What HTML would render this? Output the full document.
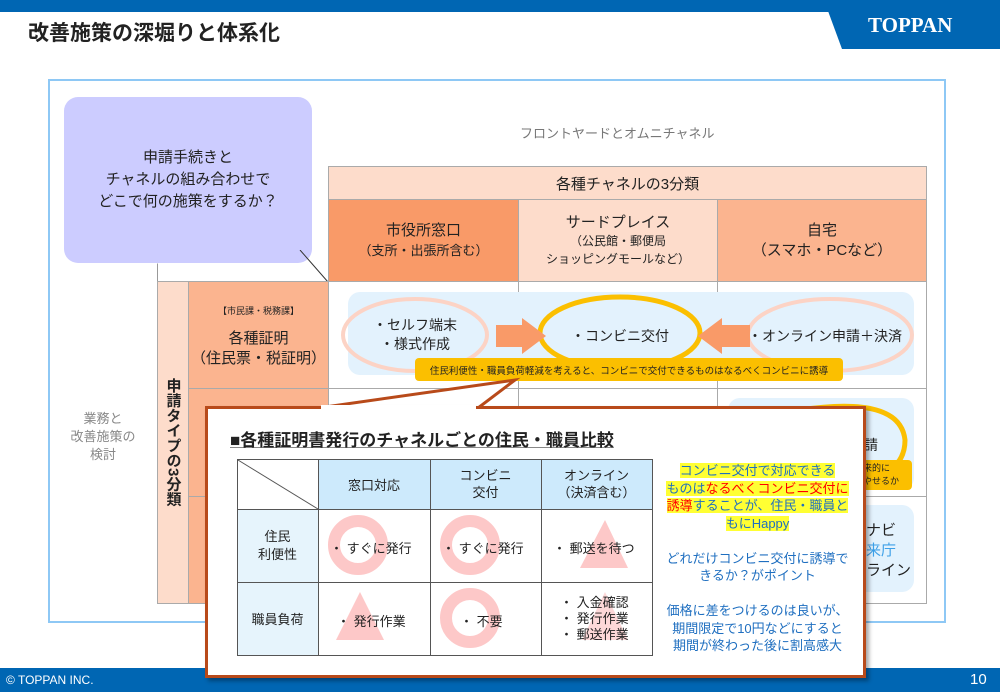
<!DOCTYPE html>
<html><head><meta charset="utf-8"><style>
*{margin:0;padding:0;box-sizing:border-box}
body{width:1000px;height:692px;position:relative;overflow:hidden;background:#fff;font-family:"Liberation Sans","Noto Sans CJK JP",sans-serif;color:#222}
.a{position:absolute}
.c{display:flex;align-items:center;justify-content:center;text-align:center;flex-direction:column}
.g{border:1px solid #aaa}
</style></head><body>
<div class="a" style="left:0;top:0;width:1000px;height:12px;background:#0066b3"></div>
<svg class="a" style="left:0;top:0" width="1000" height="50"><polygon points="828,11 1000,11 1000,49 842,49" fill="#0066b3"/></svg>
<div class="a" style="left:868px;top:13px;color:#fff;font-family:'Liberation Serif',serif;font-weight:bold;font-size:21px;">TOPPAN</div>
<div class="a" style="left:28px;top:17px;font-size:21px;font-weight:bold;color:#222">改善施策の深堀りと体系化</div>
<div class="a" style="left:0;top:668px;width:1000px;height:24px;background:#0066b3"></div>
<div class="a" style="left:6px;top:673px;font-size:12px;color:#fff">© TOPPAN INC.</div>
<div class="a" style="left:970px;top:671px;font-size:15px;color:#fff">10</div>

<div class="a" style="left:48px;top:79px;width:898px;height:544px;border:2px solid #8ec8f5"></div>
<div class="a c" style="left:64px;top:97px;width:248px;height:166px;background:#ccccff;border-radius:14px;font-size:15px;line-height:22px">申請手続きと<br>チャネルの組み合わせで<br>どこで何の施策をするか？</div>
<div class="a" style="left:520px;top:123px;font-size:13px;color:#777">フロントヤードとオムニチャネル</div>

<div class="a" style="left:157px;top:263px;width:171px;height:19px;border-left:1px solid #999;border-top:1px solid #fff"></div>
<svg class="a" style="left:290px;top:250px" width="40" height="34"><line x1="10" y1="0" x2="38" y2="32" stroke="#333" stroke-width="1"/></svg>
<div class="a" style="left:157px;top:281px;width:770px;height:1px;background:#999"></div>

<div class="a c g" style="left:328px;top:166px;width:599px;height:34px;background:#fddccb;font-size:15px">各種チャネルの3分類</div>
<div class="a c g" style="left:328px;top:199px;width:191px;height:83px;background:#f99a68;font-size:15px;line-height:20px">市役所窓口<br><span style="font-size:13px">（支所・出張所含む）</span></div>
<div class="a c g" style="left:518px;top:199px;width:200px;height:83px;background:#fddccb;font-size:15px;line-height:18px">サードプレイス<br><span style="font-size:12px">（公民館・郵便局<br>ショッピングモールなど）</span></div>
<div class="a c g" style="left:717px;top:199px;width:210px;height:83px;background:#fbb48f;font-size:15px;line-height:20px">自宅<br>（スマホ・PCなど）</div>

<div class="a c g" style="left:157px;top:281px;width:32px;height:323px;background:#fddccb;font-size:15px;writing-mode:vertical-rl;font-weight:bold">申請タイプの3分類</div>
<div class="a c g" style="left:188px;top:281px;width:141px;height:108px;background:#fbb48f;font-size:15px;line-height:20px"><span style="font-size:9px">【市民課・税務課】</span><span style="height:8px"></span>各種証明<br>（住民票・税証明）</div>
<div class="a g" style="left:188px;top:388px;width:141px;height:109px;background:#fbb48f"></div>
<div class="a g" style="left:188px;top:496px;width:141px;height:108px;background:#fbb48f"></div>
<div class="a g" style="left:328px;top:281px;width:599px;height:108px"></div>
<div class="a g" style="left:328px;top:388px;width:599px;height:109px"></div>
<div class="a g" style="left:328px;top:496px;width:599px;height:108px"></div>
<div class="a" style="left:518px;top:281px;width:1px;height:323px;background:#aaa"></div>
<div class="a" style="left:717px;top:281px;width:1px;height:323px;background:#aaa"></div>

<div class="a c" style="left:60px;top:410px;width:86px;font-size:13px;color:#888;line-height:18px">業務と<br>改善施策の<br>検討</div>

<div class="a" style="left:348px;top:292px;width:566px;height:83px;background:#e3f2fd;border-radius:12px"></div>
<div class="a" style="left:728px;top:398px;width:186px;height:92px;background:#e3f2fd;border-radius:12px"></div>
<div class="a" style="left:728px;top:505px;width:186px;height:87px;background:#e3f2fd;border-radius:12px"></div>
<svg class="a" style="left:0;top:0" width="1000" height="692">
<ellipse cx="415" cy="335" rx="72" ry="36" fill="none" stroke="#fcd3c5" stroke-width="4"/>
<ellipse cx="830" cy="335" rx="82" ry="36" fill="none" stroke="#fcd3c5" stroke-width="4"/>
<ellipse cx="620" cy="333" rx="80" ry="36" fill="none" stroke="#fbbf00" stroke-width="5"/>
<polygon points="496,325 522,325 522,318 546,336 522,354 522,347 496,347" fill="#f99a68"/>
<polygon points="750,325 722,325 722,318 698,336 722,354 722,347 750,347" fill="#f99a68"/>
<path d="M800,410 Q900,395 905,440 Q905,470 870,478" fill="none" stroke="#fbbf00" stroke-width="5"/>
</svg>
<div class="a c" style="left:360px;top:316px;width:110px;font-size:14px;line-height:19px">・セルフ端末<br>・様式作成</div>
<div class="a c" style="left:560px;top:326px;width:120px;font-size:14px">・コンビニ交付</div>
<div class="a" style="left:748px;top:326px;font-size:14px">・オンライン申請＋決済</div>
<div class="a c" style="left:415px;top:358px;width:428px;height:23px;background:#fbbf00;border-radius:4px;font-size:9.5px">住民利便性・職員負荷軽減を考えると、コンビニで交付できるものはなるべくコンビニに誘導</div>
<div class="a" style="left:864px;top:435px;font-size:14px">請</div>
<div class="a" style="left:855px;top:460px;width:57px;height:30px;background:#fbbf00;border-radius:4px;font-size:9px;line-height:13px;padding:2px 0 0 8px">来的に<br>やせるか</div>
<div class="a" style="left:866px;top:521px;font-size:15px;line-height:20px">ナビ<br><span style="color:#3da0e8">来庁</span><br>ライン</div>

<!-- popup -->
<svg class="a" style="left:0;top:0" width="1000" height="692">
<polygon points="318,408 515,380 478,408" fill="#fff" stroke="#b84a1a" stroke-width="3"/>
</svg>
<div class="a" style="left:205px;top:406px;width:661px;height:272px;background:#fff;border:3px solid #b84a1a;box-shadow:3px 3px 4px rgba(0,0,0,.35)"></div>
<div class="a" style="left:321px;top:405px;width:155px;height:5px;background:#fff"></div>
<div class="a" style="left:230px;top:426px;font-size:17px;font-weight:bold;text-decoration:underline;text-decoration-color:#888">■各種証明書発行のチャネルごとの住民・職員比較</div>

<svg class="a" style="left:0;top:0" width="1000" height="692">
<rect x="318" y="459" width="334" height="50" fill="#cdeafc"/>
<rect x="237" y="509" width="81" height="146" fill="#e6f4fc"/>
<circle cx="358" cy="545" r="24" fill="none" stroke="#fdc8c8" stroke-width="12"/>
<circle cx="470" cy="545" r="24" fill="none" stroke="#fdc8c8" stroke-width="12"/>
<polygon points="605,520 628,568 580,568" fill="#fdc8c8"/>
<polygon points="360,592 384,640 336,640" fill="#fdc8c8"/>
<circle cx="470" cy="618" r="24" fill="none" stroke="#fdc8c8" stroke-width="12"/>
<polygon points="605,592 628,640 582,640" fill="#fdd8d8"/>
<g stroke="#555" stroke-width="1" fill="none">
<rect x="237.5" y="459.5" width="415" height="196"/>
<line x1="237" y1="509.5" x2="652" y2="509.5"/><line x1="237" y1="582.5" x2="652" y2="582.5"/>
<line x1="318.5" y1="459" x2="318.5" y2="655"/><line x1="430.5" y1="459" x2="430.5" y2="655"/><line x1="541.5" y1="459" x2="541.5" y2="655"/>
<line x1="238" y1="460" x2="318" y2="509"/>
</g>
</svg>
<div class="a c" style="left:318px;top:459px;width:112px;height:50px;font-size:13px">窓口対応</div>
<div class="a c" style="left:430px;top:459px;width:111px;height:50px;font-size:13px;line-height:17px">コンビニ<br>交付</div>
<div class="a c" style="left:541px;top:459px;width:111px;height:50px;font-size:13px;line-height:17px">オンライン<br>（決済含む）</div>
<div class="a c" style="left:237px;top:509px;width:81px;height:73px;font-size:13px;line-height:18px">住民<br>利便性</div>
<div class="a c" style="left:237px;top:582px;width:81px;height:73px;font-size:13px">職員負荷</div>
<div class="a" style="left:330px;top:538px;font-size:13px">・ すぐに発行</div>
<div class="a" style="left:442px;top:538px;font-size:13px">・ すぐに発行</div>
<div class="a" style="left:553px;top:538px;font-size:13px">・ 郵送を待つ</div>
<div class="a" style="left:337px;top:611px;font-size:13px">・ 発行作業</div>
<div class="a" style="left:460px;top:611px;font-size:13px">・ 不要</div>
<div class="a" style="left:560px;top:595px;font-size:13px;line-height:16px">・ 入金確認<br>・ 発行作業<br>・ 郵送作業</div>

<div class="a" style="left:660px;top:462px;width:195px;text-align:center;font-size:13px;line-height:17.5px;color:#1f6fc0">
<span style="background:#ffff33">コンビニ交付で対応できる<br>ものは<span style="color:#f00">なるべくコンビニ交付に</span><br><span style="color:#f00">誘導</span>することが、住民・職員と<br>もにHappy</span><br><br>
どれだけコンビニ交付に誘導で<br>きるか？がポイント<br><br>
価格に差をつけるのは良いが、<br>期間限定で10円などにすると<br>期間が終わった後に割高感大</div>
</body></html>
